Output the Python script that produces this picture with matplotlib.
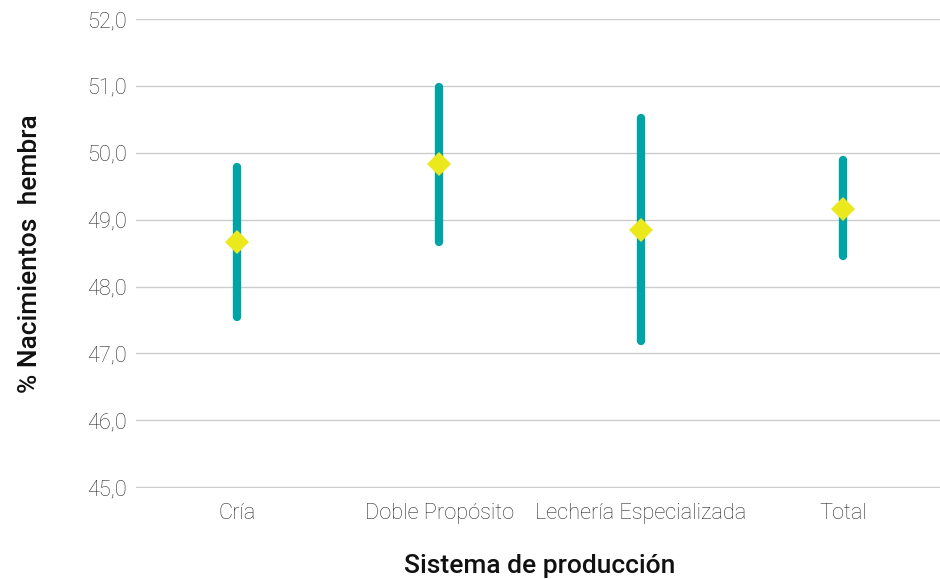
import matplotlib.pyplot as plt

# Porcentaje de nacimientos hembra por sistema de producción
sistemas = ["Cría", "Doble Propósito", "Lechería Especializada", "Total"]
media = [48.67, 49.84, 48.85, 49.16]
limite_inf = [47.54, 48.67, 47.19, 48.45]
limite_sup = [49.79, 50.98, 50.52, 49.90]

plt.rcParams['font.family'] = ['Roboto', 'DejaVu Sans']

fig = plt.figure(figsize=(9.4, 5.79), dpi=100)
ax = fig.add_axes([0.145, 0.157, 0.859, 0.81])

x = list(range(len(sistemas)))
ax.vlines(x, limite_inf, limite_sup, color='#00a3a6', linewidth=6,
          capstyle='round', zorder=3)
ax.plot(x, media, linestyle='none', marker='D', markersize=12,
        color='#ebe81c', markeredgewidth=0, zorder=4)

ax.set_ylim(44.985, 52)
ax.set_xlim(-0.5, 3.5)
ax.set_yticks(range(45, 53))
ax.set_yticklabels([f"{v},0" for v in range(45, 53)])
ax.set_xticks(x)
ax.set_xticklabels(sistemas)
ax.tick_params(axis='both', length=0, labelsize=15.7, labelcolor='#2e2e2e')
ax.tick_params(axis='y', pad=7)
ax.tick_params(axis='x', pad=11)
for lbl in ax.get_xticklabels() + ax.get_yticklabels():
    lbl.set_fontweight('light')

ax.grid(axis='y', color='#cccccc', linewidth=1)
ax.set_axisbelow(True)
for s in ax.spines.values():
    s.set_visible(False)

ax.set_xlabel("Sistema de producción", fontsize=19, fontweight='medium',
              color='#111111', labelpad=21)
ax.set_ylabel("% Nacimientos  hembra", fontsize=19, fontweight='medium',
              color='#111111', labelpad=32)

fig.savefig("out.png", dpi=100)
